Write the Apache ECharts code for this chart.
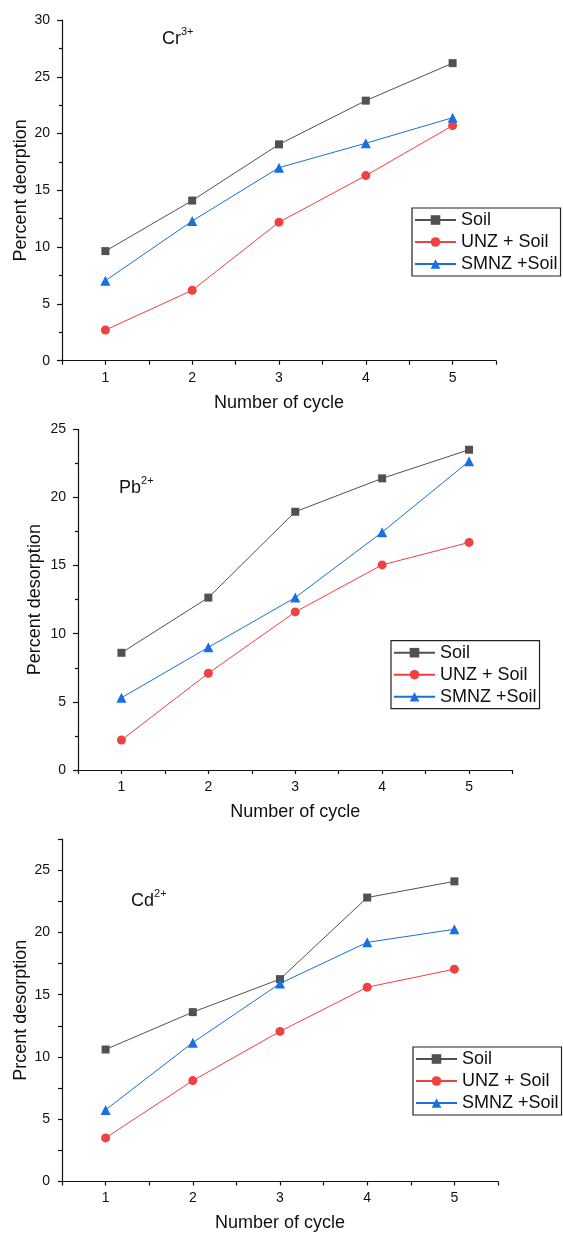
<!DOCTYPE html>
<html>
<head>
<meta charset="utf-8">
<script src="https://cdn.jsdelivr.net/npm/echarts@6/dist/echarts.min.js"></script>
<style>
  html, body { margin: 0; padding: 0; background: #fff; }
  #chart { width: 563px; height: 1234px; }
</style>
</head>
<body>
<div id="chart"></div>
<script>
// data
const cycles = [1, 2, 3, 4, 5];
const seriesNames = ["Soil", "UNZ + Soil", "SMNZ +Soil"];

const crSoil = [9.65, 14.1, 19.05, 22.9, 26.2];
const crUnz = [2.7, 6.2, 12.2, 16.3, 20.7];
const crSmnz = [7.05, 12.3, 17.0, 19.15, 21.4];

const pbSoil = [8.6, 12.65, 18.95, 21.4, 23.5];
const pbUnz = [2.2, 7.1, 11.6, 15.05, 16.7];
const pbSmnz = [5.3, 9.0, 12.65, 17.45, 22.65];

const cdSoil = [10.6, 13.6, 16.25, 22.8, 24.1];
const cdUnz = [3.5, 8.1, 12.05, 15.6, 17.05];
const cdSmnz = [5.75, 11.15, 15.9, 19.2, 20.25];

const yTitles = ["Percent deorption", "Percent desorption", "Prcent desorption"];
const xTitle = "Number of cycle";
const ions = [["Cr", "3+"], ["Pb", "2+"], ["Cd", "2+"]];

const colors = ["#515151", "#F14040", "#1A6FDF"];
const symbols = ["rect", "circle", "triangle"];
const symbolSizes = [8, 9, 10];
const font = "Liberation Sans, Arial, sans-serif";

let chart = echarts.init(document.getElementById("chart"));

function pairs(vals) {
  return cycles.map((c, i) => [c, vals[i]]);
}

let grids = [
  { left: 62, top: 20, width: 434, height: 340.7 },
  { left: 78, top: 429.3, width: 434.5, height: 340.7 },
  { left: 62, top: 839, width: 436, height: 342.5 },
];

let panels = [
  [crSoil, crUnz, crSmnz],
  [pbSoil, pbUnz, pbSmnz],
  [cdSoil, cdUnz, cdSmnz],
];

let xAxes = grids.map((g, i) => ({
  type: "value",
  gridIndex: i,
  min: 0.5,
  max: 5.5,
  interval: 0.5,
  name: xTitle,
  nameLocation: "middle",
  nameGap: 33,
  nameMoveOverlap: false,
  nameTextStyle: { fontSize: 18, color: "#111", fontFamily: font },
  axisLine: { lineStyle: { color: "#111", width: 1.2 } },
  axisTick: { length: 4, lineStyle: { color: "#111", width: 1.2 } },
  axisLabel: {
    margin: 10,
    fontSize: 14,
    color: "#111",
    fontFamily: font,
    formatter: (v) => (Number.isInteger(v) ? String(v) : ""),
  },
  splitLine: { show: false },
}));

let yAxes = [
  { max: 30, interval: 5, minor: true, gap: 32 },
  { max: 25, interval: 5, minor: true, gap: 34 },
  { max: 27.5, interval: 2.5, minor: false, gap: 32 },
].map((a, i) => ({
  type: "value",
  gridIndex: i,
  min: 0,
  max: a.max,
  interval: a.interval,
  name: yTitles[i],
  nameLocation: "middle",
  nameGap: a.gap,
  nameMoveOverlap: false,
  nameTextStyle: { fontSize: 18, color: "#111", fontFamily: font },
  axisLine: { show: true, lineStyle: { color: "#111", width: 1.2 } },
  axisTick: { length: a.minor ? 5 : 4, lineStyle: { color: "#111", width: 1.2 } },
  minorTick: { show: a.minor, splitNumber: 2, length: 3, lineStyle: { color: "#111", width: 1.2 } },
  axisLabel: {
    margin: 12,
    fontSize: 14,
    color: "#111",
    fontFamily: font,
    formatter: (v) => (v % 5 === 0 ? String(v) : ""),
  },
  splitLine: { show: false },
  minorSplitLine: { show: false },
}));

let series = [];
panels.forEach((p, gi) => {
  p.forEach((vals, si) => {
    series.push({
      name: seriesNames[si],
      type: "line",
      xAxisIndex: gi,
      yAxisIndex: gi,
      data: pairs(vals),
      symbol: symbols[si],
      symbolSize: symbolSizes[si],
      showAllSymbol: true,
      color: colors[si],
      lineStyle: { color: colors[si], width: 1 },
      itemStyle: { color: colors[si] },
      z: 2 + si,
    });
  });
});

let legendPos = [
  { left: 412, top: 208 },
  { left: 391, top: 640.7 },
  { left: 413, top: 1047 },
];

let legends = legendPos.map((pos) => ({
  left: pos.left,
  top: pos.top,
  orient: "vertical",
  data: seriesNames,
  itemWidth: 41,
  itemHeight: 12,
  itemGap: 2,
  padding: [2, 3, 2, 2],
  borderColor: "#222",
  borderWidth: 1.2,
  textStyle: { fontSize: 18, color: "#111", fontFamily: font, lineHeight: 20 },
  selectedMode: false,
}));

let annPos = [
  { left: 162, top: 26 },
  { left: 119, top: 475 },
  { left: 131, top: 888 },
];

let graphics = annPos.map((pos, i) => ({
  type: "text",
  left: pos.left,
  top: pos.top,
  style: {
    text: "{b|" + ions[i][0] + "}{s|" + ions[i][1] + "}",
    rich: {
      b: { fontSize: 18, fontFamily: font, fill: "#111", lineHeight: 22, verticalAlign: "bottom" },
      s: { fontSize: 11, fontFamily: font, fill: "#111", lineHeight: 12, verticalAlign: "top" },
    },
  },
}));

chart.setOption({
  animation: false,
  backgroundColor: "#fff",
  grid: grids,
  xAxis: xAxes,
  yAxis: yAxes,
  legend: legends,
  series: series,
  graphic: graphics,
});
</script>
</body>
</html>
